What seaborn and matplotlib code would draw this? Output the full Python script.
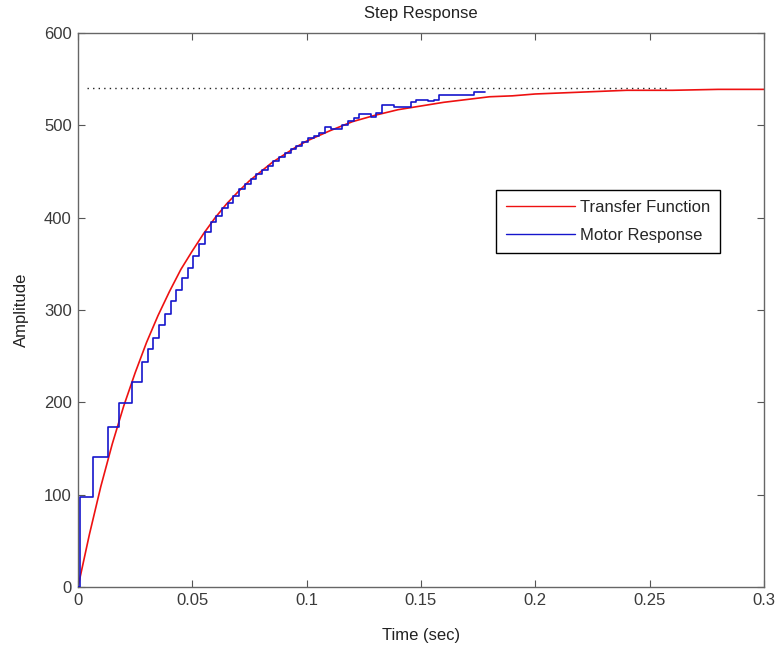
import matplotlib
matplotlib.use("Agg")
import matplotlib.pyplot as plt
import seaborn as sns
import pandas as pd

# ---- data ----
tf_time = [0, 0.005, 0.01, 0.015, 0.02, 0.025, 0.03, 0.035, 0.04, 0.045, 0.05,
           0.055, 0.06, 0.065, 0.07, 0.075, 0.08, 0.085, 0.09, 0.095, 0.10,
           0.11, 0.12, 0.13, 0.14, 0.15, 0.16, 0.17, 0.18, 0.19, 0.20,
           0.22, 0.24, 0.26, 0.28, 0.30]
tf_amp = [0, 57, 109, 155, 196, 232, 265, 294, 320, 344, 364,
          383, 400, 415, 428, 440, 450, 460, 468, 476, 483,
          494, 504, 511, 517, 521, 525, 528, 531, 532, 534,
          536, 538, 538, 539, 539]

motor_time = [0, 0.0009, 0.0067, 0.013, 0.018, 0.0235, 0.028, 0.0305, 0.033,
              0.0355, 0.038, 0.0405, 0.043, 0.0455, 0.048, 0.0505, 0.053,
              0.0555, 0.058, 0.0605, 0.063, 0.0655, 0.068, 0.0705, 0.073,
              0.0755, 0.078, 0.0805, 0.083, 0.0855, 0.088, 0.0905, 0.093,
              0.0955, 0.098, 0.1005, 0.103, 0.1055, 0.108, 0.1105, 0.113,
              0.1155, 0.118, 0.1205, 0.123, 0.1255, 0.128, 0.1305, 0.133,
              0.1355, 0.138, 0.1405, 0.143, 0.1455, 0.148, 0.1505, 0.153,
              0.1555, 0.158, 0.1605, 0.163, 0.1655, 0.168, 0.1705, 0.173,
              0.1755, 0.178]
motor_amp = [0, 97, 141, 173, 199, 222, 244, 258, 270,
             284, 296, 310, 322, 335, 346, 358, 372,
             385, 395, 402, 410, 416, 424, 431, 437,
             442, 447, 452, 456, 461, 466, 470, 474,
             478, 482, 486, 489, 492, 498, 496, 496,
             500, 505, 508, 512, 512, 509, 513, 522,
             522, 520, 520, 520, 525, 528, 528, 526,
             528, 533, 533, 533, 533, 533, 533, 536,
             536, 536]

steady_state = 540
steady_range = [0.004, 0.258]

x_ticks = [0, 0.05, 0.1, 0.15, 0.2, 0.25, 0.3]
x_tick_labels = ["0", "0.05", "0.1", "0.15", "0.2", "0.25", "0.3"]
y_ticks = [0, 100, 200, 300, 400, 500, 600]

# ---- style ----
sns.set_style("ticks")
plt.rcParams["font.family"] = ["Liberation Sans", "DejaVu Sans"]
plt.rcParams["xtick.direction"] = "in"
plt.rcParams["ytick.direction"] = "in"

fig = plt.figure(figsize=(7.79, 6.48), dpi=100, facecolor="white")
ax = fig.add_axes([0.1001, 0.0941, 0.8806, 0.8549])
ax.set_facecolor("white")

tf_df = pd.DataFrame({"t": tf_time, "a": tf_amp})
motor_df = pd.DataFrame({"t": motor_time, "a": motor_amp})

ax.hlines(steady_state, steady_range[0], steady_range[1], colors="#222222",
          linestyles=(0, (1, 3)), linewidth=1.0, zorder=1)

sns.lineplot(data=tf_df, x="t", y="a", ax=ax, color="#ee1111", linewidth=1.2,
             estimator=None, label="Transfer Function", zorder=2)
sns.lineplot(data=motor_df, x="t", y="a", ax=ax, color="#1515cc", linewidth=1.2,
             estimator=None, drawstyle="steps-post", label="Motor Response", zorder=3)

ax.set_xlim(0, 0.3)
ax.set_ylim(0, 600)
ax.set_xticks(x_ticks)
ax.set_xticklabels(x_tick_labels)
ax.set_yticks(y_ticks)

ax.tick_params(axis="both", which="both", direction="in", length=5,
               top=True, right=True, labelsize=12, colors="#555555",
               labelcolor="#3a3a3a", pad=4.5)
for s in ax.spines.values():
    s.set_visible(True)
    s.set_color("#666666")
    s.set_linewidth(1.0)

ax.set_title("Step Response", fontsize=12, color="#222222", pad=11)
ax.set_xlabel("Time (sec)", fontsize=12, color="#222222", labelpad=14)
ax.set_ylabel("Amplitude", fontsize=12, color="#222222", labelpad=11)

leg = ax.legend(loc="upper right", bbox_to_anchor=(0.936, 0.7166),
                frameon=True, fancybox=False, shadow=False, fontsize=12,
                handlelength=4.1, handletextpad=0.3, borderpad=0.6,
                labelspacing=0.75, borderaxespad=0)
leg.get_frame().set_edgecolor("black")
leg.get_frame().set_linewidth(1.0)
leg.get_frame().set_alpha(1)
for h in leg.get_lines():
    h.set_linewidth(1.0)

fig.savefig("out.png", dpi=100, facecolor="white")
